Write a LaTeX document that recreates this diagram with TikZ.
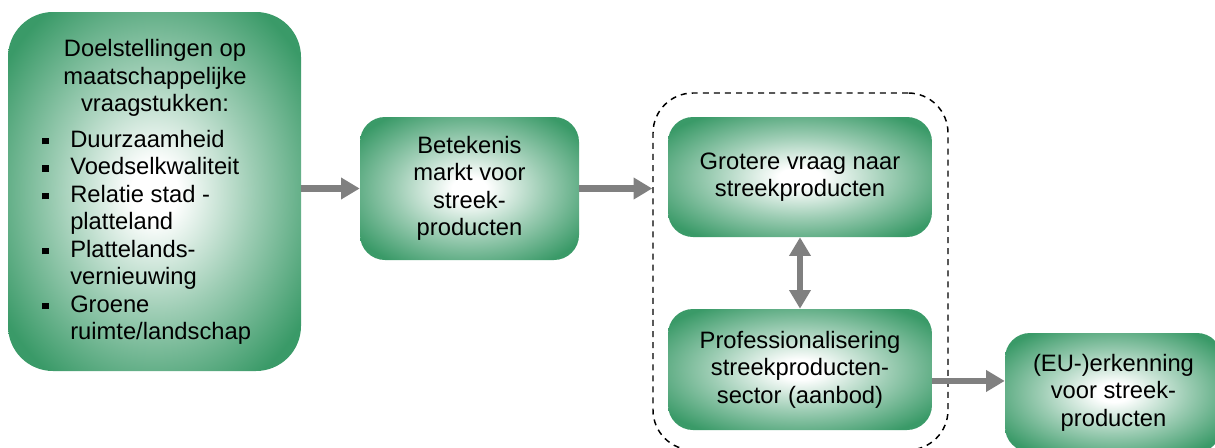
\documentclass[tikz,border=0pt]{standalone}
\usepackage{fontspec}
\setmainfont{Liberation Sans}
\usetikzlibrary{arrows.meta,calc}
\definecolor{gr}{RGB}{58,154,104}
\definecolor{arrgray}{RGB}{128,128,128}
\pgfdeclareradialshading{boxshade}{\pgfpoint{0bp}{0bp}}{color(0bp)=(white); color(4bp)=(white); color(17bp)=(gr!50!white); color(31bp)=(gr); color(100bp)=(gr)}
\newcommand{\bul}{\makebox[21pt][l]{\rule[2.3pt]{4.9pt}{4.9pt}}}
\tikzset{
  gbox/.style={shading=boxshade, draw=none, rounded corners=18.75pt, inner sep=0pt, align=center, font=\fontsize{17.8}{20.6}\selectfont},
  txt/.style={inner sep=0pt, align=center, font=\fontsize{17.8}{20.6}\selectfont},
  grpbox/.style={draw=black, line width=1.1pt, dash pattern=on 4.5pt off 3.8pt, rounded corners=30pt, inner sep=0pt},
  arr/.style={draw=arrgray, line width=5pt, -{Triangle[width=15.5pt,length=14pt]}},
  darr/.style={draw=arrgray, line width=5pt, {Triangle[width=15.5pt,length=14pt]}-{Triangle[width=15.5pt,length=14pt]}}
}
\begin{document}
\begin{tikzpicture}[x=0.75pt,y=-0.75pt]
\useasboundingbox (0,0) rectangle (1215,447);
\clip (0,0) rectangle (1215,447);
% boxes
\node[gbox, rounded corners=33.75pt, minimum width=219.75pt, minimum height=269.25pt] (b1) at (154.5,191.5) {};
\node[txt] (h1) at (155,78) {Doelstellingen op\\maatschappelijke\\vraagstukken:};
\node[inner sep=0pt, anchor=north west, font=\fontsize{17.8}{20.6}\selectfont] (l1) at (42,128) {%
\begin{tabular}{@{}l@{}l@{}}
\bul & Duurzaamheid\\
\bul & Voedselkwaliteit\\
\bul & Relatie stad -\\
     & platteland\\
\bul & Plattelands-\\
     & vernieuwing\\
\bul & Groene\\
     & ruimte/landschap
\end{tabular}};
\node[gbox, minimum width=164.25pt, minimum height=107.25pt] (b2) at (469.5,188.5) {Betekenis\\markt voor\\streek-\\producten};
\node[grpbox, minimum width=221.25pt, minimum height=267.75pt] (grp) at (800.5,271.5) {};
\node[gbox, minimum width=198pt, minimum height=90pt] (b3) at (800,177) {Grotere vraag naar\\streekproducten};
\node[gbox, minimum width=198pt, minimum height=90.75pt] (b4) at (800,369.5) {Professionalisering\\streekproducten-\\sector (aanbod)};
\node[gbox, minimum width=162.75pt, minimum height=89.25pt] (b5) at (1113.5,392.5) {(EU-)erkenning\\voor streek-\\producten};
% arrows
\draw[arr] (b1.east |- b2.west) -- (b2.west);
\draw[arr] (b2.east) -- (b2.east -| grp.west);
\draw[darr] (b3.south) -- (b4.north);
\coordinate (a3) at ([yshift=-8.6pt]b4.east);
\draw[arr] (a3) -- (a3 -| b5.west);
\end{tikzpicture}
\end{document}
